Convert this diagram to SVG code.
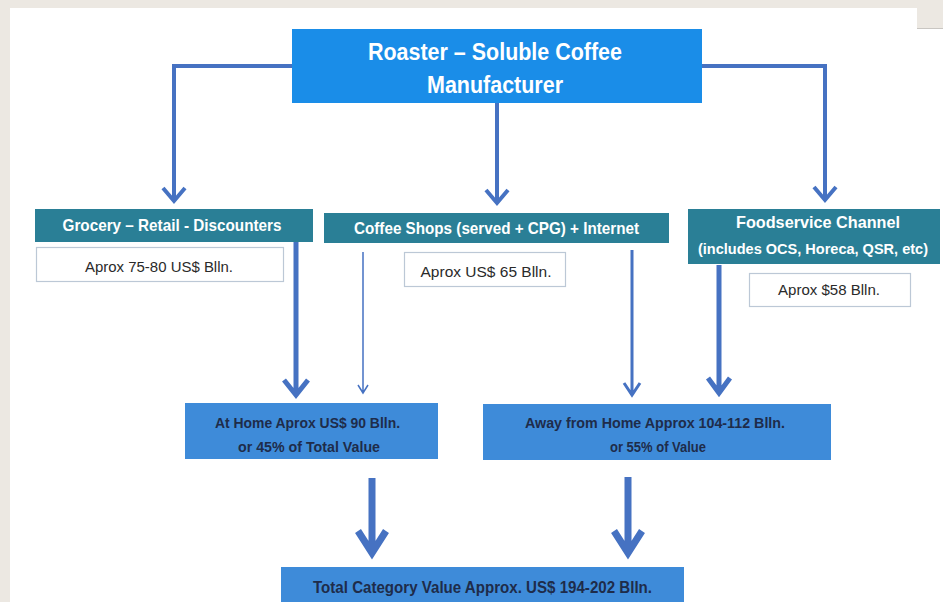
<svg xmlns="http://www.w3.org/2000/svg" width="943" height="602" viewBox="0 0 943 602">
<style>
.bg{fill:#ECE8E2}
.panel{fill:#FFFFFF}
.top{fill:#1A8DE8}
.teal{fill:#2A7F96}
.val{fill:#FFFFFF;stroke:#BCC8D6;stroke-width:1.2}
.mid{fill:#3E8BD9}
.tw{font-family:"Liberation Sans Narrow","Liberation Sans",Arial,sans-serif;font-weight:bold;fill:#FFFFFF;text-anchor:middle}
.td{font-family:"Liberation Sans Narrow","Liberation Sans",Arial,sans-serif;fill:#2A2A2A;text-anchor:middle}
.tn{font-family:"Liberation Sans Narrow","Liberation Sans",Arial,sans-serif;font-weight:bold;fill:#1E2C4A;text-anchor:middle}
.c{fill:none;stroke:#4672C2;stroke-linejoin:miter;stroke-linecap:butt}
</style>
<rect class="bg" x="0" y="0" width="943" height="602"/>
<rect class="panel" x="10" y="8" width="907" height="594"/>
<rect class="panel" x="917" y="28" width="26" height="574"/>
<line x1="917" y1="28.5" x2="943" y2="28.5" stroke="#C9C6C2" stroke-width="1"/>

<g id="connectors">
  <path class="c" stroke-width="4" d="M292,66 H174 V200 M163,188 L174,201 L185,188"/>
  <path class="c" stroke-width="4" d="M497,103 V202 M486,190 L497,203 L508,190"/>
  <path class="c" stroke-width="4" d="M702,66 H825 V199 M814,187 L825,200 L836,187"/>
  <path class="c" stroke-width="5" d="M296,242 V393 M284,380 L296,395 L308,380"/>
  <path class="c" stroke-width="1.5" d="M363,252 V392 M358,385 L363,393 L368,385"/>
  <path class="c" stroke-width="3" d="M632,250 V393 M624,383 L632,395 L640,383"/>
  <path class="c" stroke-width="5" d="M719,265 V391 M708,378 L719,393 L730,378"/>
  <path class="c" stroke-width="7" d="M372,478 V551 M358,531 L372,553 L386,531"/>
  <path class="c" stroke-width="7" d="M628,477 V551 M614,531 L628,553 L642,531"/>
</g>

<g id="roaster">
  <rect class="top" x="292" y="29" width="410" height="74"/>
  <text class="tw" x="495" y="60" font-size="23" textLength="254" lengthAdjust="spacingAndGlyphs">Roaster – Soluble Coffee</text>
  <text class="tw" x="495" y="93" font-size="23" textLength="136" lengthAdjust="spacingAndGlyphs">Manufacturer</text>
</g>

<g id="grocery">
  <rect class="teal" x="35" y="209" width="278" height="33"/>
  <text class="tw" x="172" y="231" font-size="17" textLength="219" lengthAdjust="spacingAndGlyphs">Grocery – Retail - Discounters</text>
</g>
<g id="grocery-value">
  <rect class="val" x="36.5" y="247.5" width="247" height="34"/>
  <text class="td" x="159" y="272" font-size="15" textLength="148" lengthAdjust="spacingAndGlyphs">Aprox 75-80 US$ Blln.</text>
</g>

<g id="coffeeshops">
  <rect class="teal" x="324" y="213" width="345" height="30"/>
  <text class="tw" x="496.5" y="234" font-size="17" textLength="285" lengthAdjust="spacingAndGlyphs">Coffee Shops (served + CPG) + Internet</text>
</g>
<g id="coffeeshops-value">
  <rect class="val" x="404.5" y="252.5" width="161" height="34"/>
  <text class="td" x="486" y="277" font-size="15" textLength="131" lengthAdjust="spacingAndGlyphs">Aprox US$ 65 Blln.</text>
</g>

<g id="foodservice">
  <rect class="teal" x="688" y="209" width="252" height="55"/>
  <text class="tw" x="818" y="228" font-size="17" textLength="164" lengthAdjust="spacingAndGlyphs">Foodservice Channel</text>
  <text class="tw" x="813" y="254" font-size="14.5" textLength="230" lengthAdjust="spacingAndGlyphs">(includes OCS, Horeca, QSR, etc)</text>
</g>
<g id="foodservice-value">
  <rect class="val" x="749.5" y="273.5" width="161" height="33"/>
  <text class="td" x="829" y="295" font-size="15" textLength="102" lengthAdjust="spacingAndGlyphs">Aprox $58 Blln.</text>
</g>

<g id="athome">
  <rect class="mid" x="185" y="403" width="253" height="56"/>
  <text class="tn" x="307.5" y="428" font-size="15" textLength="185" lengthAdjust="spacingAndGlyphs">At Home Aprox US$ 90 Blln.</text>
  <text class="tn" x="309" y="452" font-size="15" textLength="142" lengthAdjust="spacingAndGlyphs">or 45% of Total Value</text>
</g>

<g id="awayfromhome">
  <rect class="mid" x="483" y="404" width="348" height="56"/>
  <text class="tn" x="655" y="428" font-size="15" textLength="260" lengthAdjust="spacingAndGlyphs">Away from Home Approx 104-112 Blln.</text>
  <text class="tn" x="658" y="452" font-size="15" textLength="96" lengthAdjust="spacingAndGlyphs">or 55% of Value</text>
</g>

<g id="total">
  <rect class="mid" x="281" y="567" width="403" height="35"/>
  <text class="tn" x="482.5" y="593" font-size="16" textLength="339" lengthAdjust="spacingAndGlyphs">Total Category Value Approx. US$ 194-202 Blln.</text>
</g>
</svg>
